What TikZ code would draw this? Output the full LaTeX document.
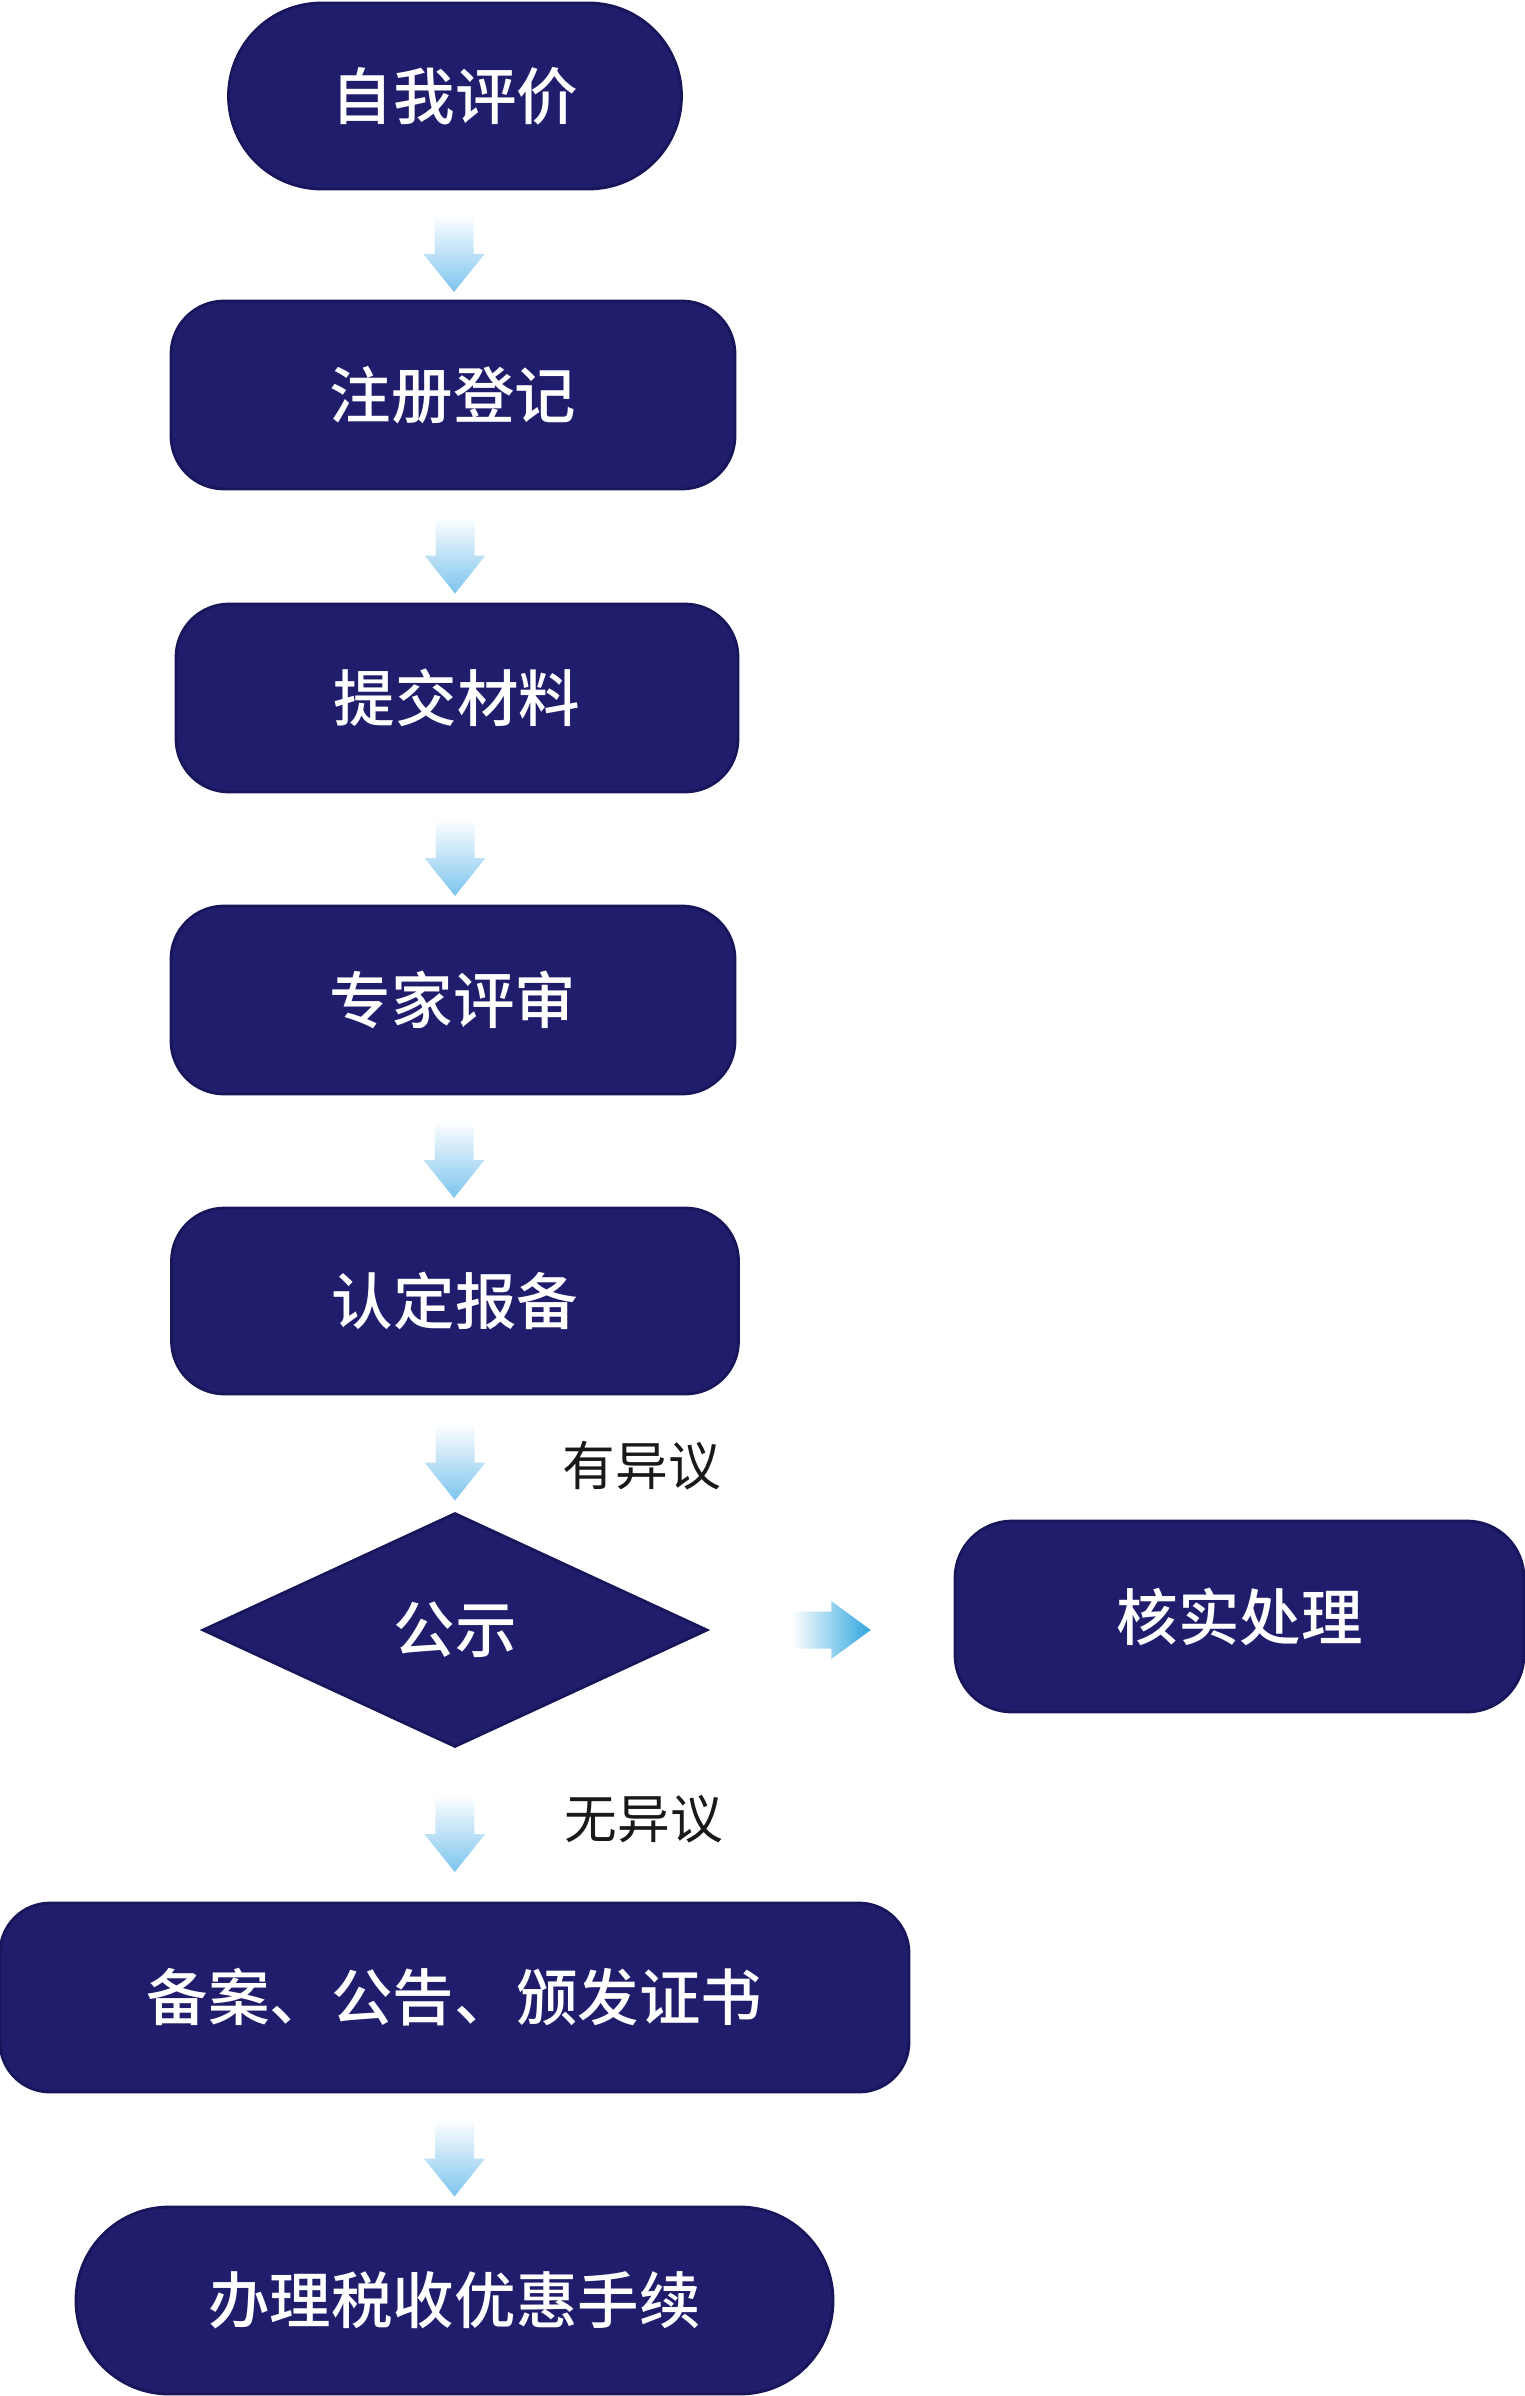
\documentclass[tikz,border=0pt]{standalone}
\usepackage{fontspec}
\newfontfamily\cjk{Noto Sans CJK SC}
\newfontfamily\cjkmid{Noto Sans CJK SC Medium}
\usetikzlibrary{shapes.geometric,calc}
\definecolor{boxblue}{HTML}{201D6C}
\definecolor{boxedge}{HTML}{18155B}
\definecolor{arrowblue}{HTML}{7CC4EE}
\definecolor{arrowcyan}{HTML}{2EA6DE}
\tikzset{
	stepbox/.style={draw=boxedge,fill=boxblue,line width=0.8pt,rounded corners=0.53cm,
		minimum width=5.64cm,minimum height=1.88cm,text=white,
		font=\cjkmid\fontsize{17.5}{21}\selectfont},
	endbox/.style={stepbox,rounded corners=0.93cm},
	decision/.style={stepbox,diamond,rounded corners=0pt,aspect=2.16,
		minimum width=5.05cm,minimum height=2.34cm},
	lbl/.style={text=black!90,font=\cjk\fontsize{15}{18}\selectfont}
}
\newcommand{\flowdown}[2]{%
	\coordinate (m) at ($(#1.south)!0.5!(#2.north)+(0,-0.09)$);
	\shade[top color=white,middle color=arrowblue!70,bottom color=arrowblue]
		($(m)+(-0.195,0.39)$) -- ($(m)+(-0.195,0)$) -- ($(m)+(-0.305,0)$) -- ($(m)+(0,-0.38)$)
		-- ($(m)+(0.305,0)$) -- ($(m)+(0.195,0)$) -- ($(m)+(0.195,0.39)$) -- cycle;}
\newcommand{\flowright}[2]{%
	\coordinate (m) at ($(#1.east)!0.5!(#1.east -| #2.west)$);
	\shade[left color=white,middle color=arrowcyan!70,right color=arrowcyan]
		($(m)+(-0.395,0.185)$) -- ($(m)+(0,0.185)$) -- ($(m)+(0,0.29)$) -- ($(m)+(0.395,0)$)
		-- ($(m)+(0,-0.29)$) -- ($(m)+(0,-0.185)$) -- ($(m)+(-0.395,-0.185)$) -- cycle;}
\begin{document}
\begin{tikzpicture}
	\useasboundingbox (0,0) rectangle (15.24,-23.96);
	\node[endbox,minimum width=4.53cm,minimum height=1.86cm] (self) at (4.55,-0.96) {自我评价};
	\node[stepbox] (reg) at (4.53,-3.95) {注册登记};
	\node[stepbox,minimum width=5.62cm] (docs) at (4.57,-6.98) {提交材料};
	\node[stepbox] (review) at (4.53,-10.00) {专家评审};
	\node[stepbox,minimum width=5.67cm,minimum height=1.86cm] (file) at (4.55,-13.01) {认定报备};
	\node[decision] (pub) at (4.55,-16.30) {公示};
	\node[stepbox,minimum width=5.69cm,minimum height=1.91cm,rounded corners=0.57cm] (verify) at (12.395,-16.165) {核实处理};
	\node[stepbox,minimum width=9.09cm,minimum height=1.89cm,rounded corners=0.5cm] (cert) at (4.545,-19.975) {备案、公告、颁发证书};
	\node[endbox,minimum width=7.57cm,minimum height=1.87cm] (tax) at (4.545,-23.005) {办理税收优惠手续};
	\node[lbl] (objection) at (6.42,-14.66) {有异议};
	\node[lbl] (noobjection) at (6.44,-18.19) {无异议};
	\flowdown{self}{reg}
	\flowdown{reg}{docs}
	\flowdown{docs}{review}
	\flowdown{review}{file}
	\flowdown{file}{pub}
	\flowright{pub}{verify}
	\flowdown{pub}{cert}
	\flowdown{cert}{tax}
\end{tikzpicture}
\end{document}
